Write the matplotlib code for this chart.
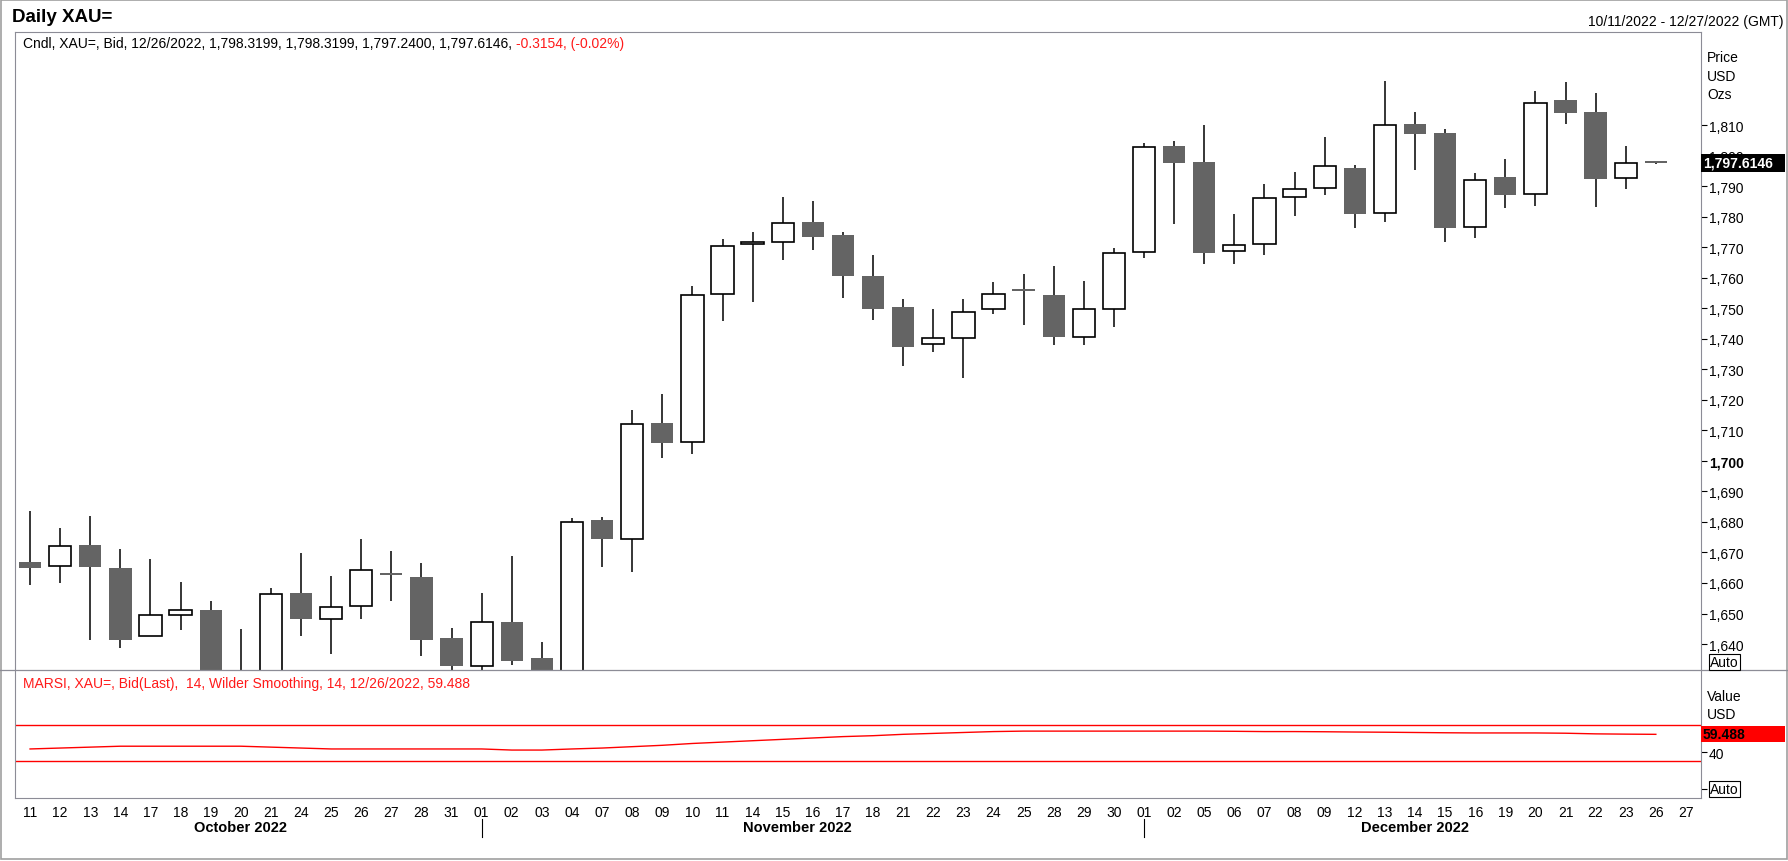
import numpy as np
import matplotlib
matplotlib.use("Agg")
import matplotlib.pyplot as plt
from matplotlib.patches import Rectangle
from matplotlib.lines import Line2D
from matplotlib.transforms import blended_transform_factory

plt.rcParams['font.family'] = ['Liberation Sans', 'DejaVu Sans']

# trading days shown on the x axis (last slot "27" is empty)
day_labels = ['11', '12', '13', '14', '17', '18', '19', '20', '21', '24', '25', '26', '27', '28', '31',
              '01', '02', '03', '04', '07', '08', '09', '10', '11', '14', '15', '16', '17', '18', '21',
              '22', '23', '24', '25', '28', '29', '30',
              '01', '02', '05', '06', '07', '08', '09', '12', '13', '14', '15', '16', '19', '20', '21',
              '22', '23', '26', '27']
months = ['October 2022', 'November 2022', 'December 2022']
month_start = [0, 15, 37]

opens = [1666.8, 1665.7, 1672.5, 1665.0, 1642.7, 1649.5, 1651.2, 1628.6, 1627.5, 1656.8,
         1648.3, 1652.6, 1663.3, 1662.0, 1642.1, 1632.9, 1647.3, 1635.5, 1629.5, 1680.7,
         1674.5, 1712.5, 1706.2, 1754.7, 1771.2, 1771.8, 1778.3, 1774.0, 1760.6, 1750.4,
         1738.3, 1740.3, 1749.6, 1756.4, 1754.2, 1740.6, 1749.9, 1768.4, 1803.0, 1797.8,
         1768.8, 1771.0, 1786.4, 1789.4, 1795.8, 1781.2, 1810.5, 1807.4, 1776.7, 1793.0,
         1787.4, 1818.2, 1814.3, 1792.6, 1798.3199]
highs = [1683.5, 1678.1, 1682.0, 1671.2, 1667.9, 1660.4, 1654.2, 1645.0, 1658.3, 1669.8,
         1662.4, 1674.5, 1670.4, 1666.6, 1645.3, 1656.8, 1668.9, 1640.8, 1681.2, 1681.6,
         1716.7, 1722.0, 1757.3, 1772.7, 1775.0, 1786.4, 1785.1, 1774.9, 1767.4, 1753.0,
         1749.8, 1753.0, 1758.5, 1761.1, 1763.7, 1758.8, 1769.9, 1804.0, 1804.7, 1809.9,
         1780.8, 1790.6, 1794.8, 1806.0, 1797.0, 1824.3, 1814.2, 1808.6, 1794.2, 1798.9,
         1821.1, 1824.1, 1820.5, 1803.1, 1798.3199]
lows = [1659.2, 1659.9, 1641.2, 1638.8, 1642.5, 1644.5, 1627.0, 1621.0, 1617.0, 1642.5,
        1636.6, 1648.1, 1654.0, 1636.0, 1631.0, 1631.0, 1633.3, 1616.0, 1627.0, 1665.4,
        1663.5, 1700.8, 1702.3, 1745.9, 1752.2, 1765.9, 1769.2, 1753.5, 1746.3, 1731.2,
        1735.8, 1727.3, 1748.0, 1744.6, 1738.1, 1738.1, 1743.7, 1766.6, 1777.7, 1764.6,
        1764.6, 1767.5, 1780.3, 1787.2, 1776.3, 1778.4, 1795.4, 1771.8, 1773.1, 1783.0,
        1783.6, 1810.4, 1783.3, 1789.2, 1797.24]
closes = [1664.8, 1672.1, 1665.4, 1641.2, 1649.4, 1651.3, 1628.5, 1627.6, 1656.3, 1648.1,
          1652.0, 1664.1, 1662.7, 1641.2, 1632.7, 1647.2, 1634.3, 1629.0, 1680.0, 1674.3,
          1712.2, 1705.9, 1754.5, 1770.5, 1771.6, 1778.0, 1773.4, 1760.6, 1749.6, 1737.4,
          1740.1, 1748.9, 1754.8, 1755.8, 1740.5, 1749.6, 1768.2, 1802.8, 1797.7, 1768.2,
          1770.8, 1786.2, 1789.2, 1796.6, 1781.0, 1810.1, 1807.2, 1776.4, 1792.1, 1787.2,
          1817.4, 1814.0, 1792.4, 1797.7, 1797.6146]

rsi = [43.5, 44.5, 45.5, 46.5, 46.5, 46.5, 46.5, 46.5, 45.5, 44.5,
       43.5, 43.5, 43.5, 43.5, 43.5, 43.5, 42.3, 42.3, 43.5, 44.5,
       46.0, 47.5, 49.5, 51.0, 52.5, 54.0, 55.5, 57.0, 58.0, 59.5,
       60.5, 61.5, 62.5, 63.0, 63.0, 63.0, 63.0, 63.0, 63.0, 63.0,
       62.8, 62.5, 62.5, 62.3, 62.0, 61.8, 61.5, 61.2, 61.0, 61.0,
       61.0, 60.7, 60.0, 59.7, 59.488]
rsi_levels = [70, 30]

price_ticks = list(range(1640, 1811, 10))

W, H = 1788, 862
GREY = '#8c8c96'
FILL = '#646464'
RED = '#ff1a1a'


def fx(px):
    return px / W


def fy(py):
    return 1 - py / H


fig = plt.figure(figsize=(W / 100, H / 100), dpi=100)
ax = fig.add_axes([fx(15), fy(671), fx(1701) - fx(15), fy(33) - fy(671)])
ax2 = fig.add_axes([fx(15), fy(799), fx(1701) - fx(15), fy(671) - fy(799)], sharex=ax)

# candles
w = 0.74
for i, (o, h, l, c) in enumerate(zip(opens, highs, lows, closes)):
    ax.vlines(i, l, h, color='black', lw=1.1, zorder=2)
    up = c > o
    ax.add_patch(Rectangle((i - w / 2, min(o, c)), w, abs(c - o),
                           facecolor='white' if up else FILL,
                           edgecolor='black' if up else 'none',
                           lw=1.2 if up else 0, zorder=3))

ax.set_xlim(-0.5, 55.5)
ax.set_ylim(1631.5, 1840.5)
ax.yaxis.tick_right()
ax.set_yticks(price_ticks)
ax.set_yticklabels([f'{t:,}' for t in price_ticks])
for lab, t in zip(ax.get_yticklabels(), price_ticks):
    if t == 1700:
        lab.set_fontweight('bold')
ax.tick_params(axis='y', length=4.3, width=0.8, pad=1.5, labelsize=10, colors='black')
ax.tick_params(axis='x', bottom=False, labelbottom=False)
for s in ax.spines.values():
    s.set_color(GREY)
ax.spines['bottom'].set_visible(False)

head = ax.text(0.005, 0.983, 'Cndl, XAU=, Bid, 12/26/2022, 1,798.3199, 1,798.3199, 1,797.2400, 1,797.6146, ',
               transform=ax.transAxes, fontsize=10, va='center', ha='left')
ax.annotate('-0.3154, (-0.02%)', xy=(1, 0.5), xycoords=head, color=RED, fontsize=10,
            va='center', ha='left')

# RSI pane
x = np.arange(len(rsi))
ax2.plot(x, rsi, color='red', lw=1.0)
for lvl in rsi_levels:
    ax2.axhline(lvl, color='red', lw=1.0)
ax2.set_ylim(-10.1, 129.8)
ax2.yaxis.tick_right()
ax2.set_yticks([0, 40])
ax2.set_yticklabels(['', '40'])
ax2.tick_params(axis='y', length=4.3, width=0.8, pad=1.5, labelsize=10, colors='black')
ax2.set_xticks(range(len(day_labels)))
ax2.set_xticklabels(day_labels)
ax2.tick_params(axis='x', length=0, pad=5, labelsize=10)
for s in ax2.spines.values():
    s.set_color(GREY)
ax2.spines['top'].set_visible(False)
ax2.text(0.005, 0.9, 'MARSI, XAU=, Bid(Last),  14, Wilder Smoothing, 14, 12/26/2022, 59.488',
         transform=ax2.transAxes, color=RED, fontsize=10, va='center', ha='left')

# month labels and separators
month_end = month_start[1:] + [len(day_labels)]
tr = blended_transform_factory(ax2.transData, fig.transFigure)
for name, a, b in zip(months, month_start, month_end):
    fig.text((a + b - 1) / 2, fy(828), name, transform=tr, ha='center', va='center',
             fontsize=10.5, fontweight='bold')
for a in month_start[1:]:
    fig.add_artist(Line2D([a, a], [fy(820), fy(838)], transform=tr, color='black', lw=0.8))

# header texts
fig.text(fx(12), fy(17), 'Daily XAU=', fontsize=13.5, fontweight='bold', va='center', ha='left')
fig.text(fx(1783), fy(22), '10/11/2022 - 12/27/2022 (GMT)', fontsize=10, va='center', ha='right')

for txt, py in [('Price', 58), ('USD', 77), ('Ozs', 95)]:
    fig.text(fx(1707), fy(py), txt, fontsize=10, va='center', ha='left')
for txt, py in [('Value', 697), ('USD', 715)]:
    fig.text(fx(1707), fy(py), txt, fontsize=10, va='center', ha='left')

box = dict(facecolor='white', edgecolor='black', lw=0.8, boxstyle='square,pad=0.08')
fig.text(fx(1710), fy(663), 'Auto', fontsize=10, va='center', ha='left', bbox=box)
fig.text(fx(1710), fy(790), 'Auto', fontsize=10, va='center', ha='left', bbox=box)

# last value tags
trp = blended_transform_factory(fig.transFigure, ax.transData)
last = closes[-1]
fig.add_artist(Rectangle((fx(1701), last - 2.9), fx(1785) - fx(1701), 5.8,
                         transform=trp, facecolor='black', edgecolor='none', zorder=5))
fig.text(fx(1703), last, f'{last:,.4f}', transform=trp, color='white', fontsize=10,
         fontweight='bold', va='center', ha='left', zorder=6)

trr = blended_transform_factory(fig.transFigure, ax2.transData)
fig.add_artist(Rectangle((fx(1701), rsi[-1] - 8.6), fx(1785) - fx(1701), 17.2,
                         transform=trr, facecolor='red', edgecolor='none', zorder=5))
fig.text(fx(1703), rsi[-1], f'{rsi[-1]:.3f}', transform=trr, color='black', fontsize=10,
         fontweight='bold', va='center', ha='left', zorder=6)

# frame and pane divider
fig.add_artist(Line2D([0, 1], [fy(671), fy(671)], color=GREY, lw=0.9))
fig.add_artist(Rectangle((0.0005, 0.002), 0.999, 0.997, transform=fig.transFigure,
                         fill=False, edgecolor='#a0a0a0', lw=1.2))

fig.savefig('out.png', dpi=100)
